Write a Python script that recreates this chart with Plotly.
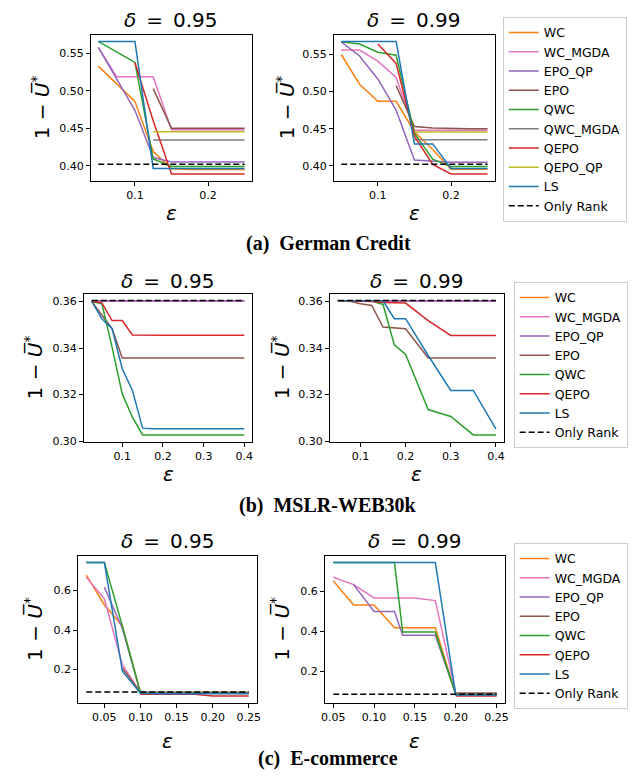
import plotly.graph_objects as go

OFF = 0
W, H = 641 - OFF, 777 - OFF

SERIES = ["WC", "WC_MGDA", "EPO_QP", "EPO", "QWC", "QWC_MGDA", "QEPO", "QEPO_QP", "LS"]
COLORS = {
    "WC": "#ff7f0e", "WC_MGDA": "#e377c2", "EPO_QP": "#9467bd", "EPO": "#8c564b",
    "QWC": "#2ca02c", "QWC_MGDA": "#7f7f7f", "QEPO": "#d62728", "QEPO_QP": "#bcbd22",
    "LS": "#1f77b4",
}

# ---------------- German Credit ----------------
gc_eps = [0.05, 0.075, 0.1, 0.125, 0.15, 0.175, 0.2, 0.225, 0.25]
gc95_WC = [0.533, 0.510, 0.486, 0.419, 0.396, 0.395, 0.395, 0.395, 0.395]
gc95_WC_MGDA = [0.558, 0.519, 0.519, 0.519, 0.448, 0.448, 0.448, 0.448, 0.448]
gc95_EPO_QP = [0.558, 0.516, 0.474, 0.411, 0.405, 0.405, 0.405, 0.405, 0.405]
gc95_EPO = [None, None, None, 0.503, 0.450, 0.450, 0.450, 0.450, 0.450]
gc95_QWC = [0.566, 0.552, 0.538, 0.409, 0.399, 0.399, 0.399, 0.399, 0.399]
gc95_QWC_MGDA = [None, None, None, 0.4345, 0.4345, 0.4345, 0.4345, 0.4345, 0.4345]
gc95_QEPO = [None, None, 0.538, 0.460, 0.389, 0.389, 0.389, 0.389, 0.389]
gc95_QEPO_QP = [None, None, None, 0.4455, 0.4455, 0.4455, 0.4455, 0.4455, 0.4455]
gc95_LS = [0.566, 0.566, 0.566, 0.3965, 0.3965, 0.3965, 0.3965, 0.3965, 0.3965]
gc95_RANK = [0.402, 0.402, 0.402, 0.402, 0.402, 0.402, 0.402, 0.402, 0.402]

gc99_WC = [0.550, 0.510, 0.487, 0.487, 0.446, 0.422, 0.3955, 0.3955, 0.3955]
gc99_WC_MGDA = [0.556, 0.556, 0.541, 0.519, 0.448, 0.448, 0.448, 0.448, 0.448]
gc99_EPO_QP = [0.567, 0.548, 0.517, 0.475, 0.408, 0.4066, 0.405, 0.405, 0.405]
gc99_EPO = [None, None, None, 0.508, 0.453, 0.451, 0.450, 0.450, 0.450]
gc99_QWC = [0.567, 0.564, 0.553, 0.549, 0.444, 0.409, 0.399, 0.399, 0.399]
gc99_QWC_MGDA = [None, None, None, None, 0.435, 0.435, 0.435, 0.435, 0.435]
gc99_QEPO = [None, None, 0.564, 0.538, 0.440, 0.402, 0.389, 0.389, 0.389]
gc99_QEPO_QP = [None, None, None, None, 0.4455, 0.4455, 0.4455, 0.4455, 0.4455]
gc99_LS = [0.5676, 0.5676, 0.5676, 0.5676, 0.4296, 0.4296, 0.3965, 0.3965, 0.3965]
gc99_RANK = [0.402, 0.402, 0.402, 0.402, 0.402, 0.402, 0.402, 0.402, 0.402]

# ---------------- MSLR-WEB30k ----------------
ms_eps = [0.025, 0.05, 0.075, 0.1, 0.125, 0.15, 0.175, 0.2, 0.25, 0.3, 0.35, 0.4]
ms95_WC = [0.3602, 0.3602, 0.3602, 0.3602, 0.3602, 0.3602, 0.3602, 0.3602, 0.3602, 0.3602, 0.3602, 0.3602]
ms95_WC_MGDA = [0.3602, 0.3602, 0.3602, 0.3602, 0.3602, 0.3602, 0.3602, 0.3602, 0.3602, 0.3602, 0.3602, 0.3602]
ms95_EPO_QP = [0.3602, 0.3602, 0.3602, 0.3602, 0.3602, 0.3602, 0.3602, 0.3602, 0.3602, 0.3602, 0.3602, 0.3602]
ms95_EPO = [0.360, 0.354, 0.3483, 0.3357, 0.3357, 0.3357, 0.3357, 0.3357, 0.3357, 0.3357, 0.3357, 0.3357]
ms95_QWC = [0.360, 0.359, 0.3404, 0.3203, 0.3103, 0.3027, 0.3027, 0.3027, 0.3027, 0.3027, 0.3027, 0.3027]
ms95_QEPO = [0.360, 0.3594, 0.3518, 0.3518, 0.3456, 0.3455, 0.3455, 0.3455, 0.3455, 0.3455, 0.3455, 0.3455]
ms95_LS = [0.360, 0.3526, 0.3483, 0.3311, 0.3218, 0.3056, 0.3053, 0.3053, 0.3053, 0.3053, 0.3053, 0.3053]
ms95_RANK = [0.3604, 0.3604, 0.3604, 0.3604, 0.3604, 0.3604, 0.3604, 0.3604, 0.3604, 0.3604, 0.3604, 0.3604]

ms99_WC = [None, 0.3602, 0.3602, 0.3602, 0.3602, 0.3602, 0.3602, 0.3602, 0.3602, 0.3602, 0.3602, 0.3602]
ms99_WC_MGDA = [None, 0.3602, 0.3602, 0.3602, 0.3602, 0.3602, 0.3602, 0.3602, 0.3602, 0.3602, 0.3602, 0.3602]
ms99_EPO_QP = [None, 0.3602, 0.3602, 0.3602, 0.3602, 0.3602, 0.3602, 0.3602, 0.3602, 0.3602, 0.3602, 0.3602]
ms99_EPO = [None, 0.3602, 0.3602, 0.359, 0.3583, 0.349, 0.3485, 0.3483, 0.3357, 0.3357, 0.3357, 0.3357]
ms99_QWC = [None, 0.3602, 0.3602, 0.3602, 0.3602, 0.3587, 0.3414, 0.3372, 0.3136, 0.3106, 0.3027, 0.3027]
ms99_QEPO = [None, 0.3602, 0.3602, 0.3602, 0.3600, 0.3595, 0.3593, 0.3593, 0.3518, 0.3454, 0.3454, 0.3454]
ms99_LS = [None, 0.3603, 0.3603, 0.3603, 0.3603, 0.3603, 0.3526, 0.3526, 0.3368, 0.3218, 0.3218, 0.3053]
ms99_RANK = [None, 0.3604, 0.3604, 0.3604, 0.3604, 0.3604, 0.3604, 0.3604, 0.3604, 0.3604, 0.3604, 0.3604]

# ---------------- E-commerce ----------------
ec95_eps = [0.025, 0.05, 0.075, 0.1, 0.125, 0.15, 0.175, 0.2, 0.225, 0.25]
ec95_WC = [0.678, 0.528, 0.420, 0.083, 0.083, 0.083, 0.083, 0.083, 0.083, 0.083]
ec95_WC_MGDA = [0.667, 0.558, 0.225, 0.083, 0.080, 0.080, 0.080, 0.080, 0.080, 0.080]
ec95_EPO_QP = [None, 0.617, 0.408, 0.083, 0.083, 0.083, 0.083, 0.083, 0.083, 0.083]
ec95_EPO = [None, None, 0.208, 0.086, 0.086, 0.086, 0.086, 0.086, 0.086, 0.086]
ec95_QWC = [0.742, 0.742, 0.420, 0.083, 0.080, 0.080, 0.080, 0.080, 0.080, 0.080]
ec95_QEPO = [None, None, None, 0.075, 0.075, 0.075, 0.075, 0.067, 0.067, 0.067]
ec95_LS = [0.742, 0.742, 0.192, 0.080, 0.078, 0.078, 0.078, 0.078, 0.078, 0.078]
ec95_RANK = [0.0867, 0.0867, 0.0867, 0.0867, 0.0867, 0.0867, 0.0867, 0.0867, 0.0867, 0.0867]

ec99_eps = [0.05, 0.075, 0.1, 0.125, 0.135, 0.15, 0.175, 0.2, 0.225, 0.25]
ec99_WC = [0.655, 0.533, 0.533, 0.418, None, 0.418, 0.418, 0.083, 0.083, 0.083]
ec99_WC_MGDA = [0.672, 0.635, 0.568, 0.568, None, 0.568, 0.555, 0.090, 0.090, 0.090]
ec99_EPO_QP = [None, 0.635, 0.500, 0.500, 0.380, 0.380, 0.380, 0.083, 0.083, 0.083]
ec99_EPO = [None, None, None, None, None, None, None, 0.088, 0.088, 0.088]
ec99_QWC = [0.747, 0.747, 0.747, 0.747, 0.397, 0.397, 0.397, 0.083, 0.083, 0.083]
ec99_QEPO = [None, None, None, None, None, None, None, 0.075, 0.075, 0.075]
ec99_LS = [0.747, 0.747, 0.747, 0.747, None, 0.747, 0.747, 0.080, 0.080, 0.080]
ec99_RANK = [0.083, 0.083, 0.083, 0.083, 0.083, 0.083, 0.083, 0.083, 0.083, 0.083]

SHORT = ["WC", "WC_MGDA", "EPO_QP", "EPO", "QWC", "QEPO", "LS"]
PANELS = [
    dict(x=gc_eps, title="0.95", legend="legend", names=SERIES,
         ys=[gc95_WC, gc95_WC_MGDA, gc95_EPO_QP, gc95_EPO, gc95_QWC, gc95_QWC_MGDA, gc95_QEPO, gc95_QEPO_QP, gc95_LS],
         rank=gc95_RANK, dom=(80, 243, 27, 174), xd=0.1, xf=".1f", yd=0.05, yf=".2f", show=True),
    dict(x=gc_eps, title="0.99", legend="legend", names=SERIES,
         ys=[gc99_WC, gc99_WC_MGDA, gc99_EPO_QP, gc99_EPO, gc99_QWC, gc99_QWC_MGDA, gc99_QEPO, gc99_QEPO_QP, gc99_LS],
         rank=gc99_RANK, dom=(326, 489, 27, 174), xd=0.1, xf=".1f", yd=0.05, yf=".2f", show=False),
    dict(x=ms_eps, title="0.95", legend="legend2", names=SHORT,
         ys=[ms95_WC, ms95_WC_MGDA, ms95_EPO_QP, ms95_EPO, ms95_QWC, ms95_QEPO, ms95_LS],
         rank=ms95_RANK, dom=(73, 243, 288, 437), xd=0.1, xf=".1f", yd=0.02, yf=".2f", show=True),
    dict(x=ms_eps, title="0.99", legend="legend2", names=SHORT,
         ys=[ms99_WC, ms99_WC_MGDA, ms99_EPO_QP, ms99_EPO, ms99_QWC, ms99_QEPO, ms99_LS],
         rank=ms99_RANK, dom=(322, 498, 288, 437), xd=0.1, xf=".1f", yd=0.02, yf=".2f", show=False),
    dict(x=ec95_eps, title="0.95", legend="legend3", names=SHORT,
         ys=[ec95_WC, ec95_WC_MGDA, ec95_EPO_QP, ec95_EPO, ec95_QWC, ec95_QEPO, ec95_LS],
         rank=ec95_RANK, dom=(67, 248, 552, 700), xd=0.05, xf=".2f", yd=0.2, yf=".1f", show=True),
    dict(x=ec99_eps, title="0.99", legend="legend3", names=SHORT,
         ys=[ec99_WC, ec99_WC_MGDA, ec99_EPO_QP, ec99_EPO, ec99_QWC, ec99_QEPO, ec99_LS],
         rank=ec99_RANK, dom=(317, 499, 552, 700), xd=0.05, xf=".2f", yd=0.2, yf=".1f", show=False),
]

# label positions (reference pixels): title y, eps y, ylabel x
LABELS = [(12, 207, 29), (12, 207, 277), (275, 470, 22), (275, 470, 272), (537, 739, 22), (537, 739, 272)]
CAPTIONS = [("(a)\u00a0\u00a0German Credit", 237), ("(b)\u00a0\u00a0MSLR-WEB30k", 501), ("(c)\u00a0\u00a0E-commerce", 756)]


def px(x):
    return (x - OFF) / W


def py(y):
    return 1 - (y - OFF) / H


FONT = "DejaVu Sans"
fig = go.Figure()
layout = dict(width=W, height=H, margin=dict(l=0, r=0, t=0, b=0),
              paper_bgcolor="white", plot_bgcolor="white", showlegend=True,
              font=dict(family=FONT, size=11, color="black"))
annotations = []


def auto_range(vals):
    lo, hi = min(vals), max(vals)
    m = (hi - lo) * 0.05
    return [lo - m, hi + m]


for i, p in enumerate(PANELS):
    k = "" if i == 0 else str(i + 1)
    xa, ya = "x" + k, "y" + k
    allx = [xv for xv, *cols in zip(p["x"], *p["ys"], p["rank"]) if any(c is not None for c in cols)]
    ally = [v for col in p["ys"] + [p["rank"]] for v in col if v is not None]
    for name, y in zip(p["names"], p["ys"]):
        fig.add_trace(go.Scatter(
            x=p["x"], y=y, mode="lines", name=name, xaxis=xa, yaxis=ya,
            line=dict(color=COLORS[name], width=1.5), connectgaps=True,
            legend=p["legend"], legendgroup=name + p["legend"], showlegend=p["show"]))
    fig.add_trace(go.Scatter(
        x=p["x"], y=p["rank"], mode="lines", name="Only Rank", xaxis=xa, yaxis=ya,
        line=dict(color="black", width=1.5, dash="6px,3px"), connectgaps=True,
        legend=p["legend"], legendgroup="rank" + p["legend"], showlegend=p["show"]))
    l, r, t, b = p["dom"]
    common = dict(showline=True, mirror=True, linecolor="black", linewidth=1,
                  ticks="outside", ticklen=4, tickwidth=1, tickcolor="black",
                  showgrid=False, zeroline=False, tickfont=dict(family=FONT, size=11, color="black"))
    layout["xaxis" + k] = dict(domain=[px(l), px(r)], anchor=ya, range=auto_range(allx),
                               dtick=p["xd"], tick0=0, tickformat=p["xf"], **common)
    layout["yaxis" + k] = dict(domain=[py(b), py(t)], anchor=xa, range=auto_range(ally),
                               dtick=p["yd"], tick0=0, tickformat=p["yf"], **common)
    ty, ey, yx = LABELS[i]
    cx = px((l + r) / 2)
    annotations.append(dict(text="<i>δ</i>\u2002=\u2002" + p["title"], x=cx, y=py(ty),
                            xref="paper", yref="paper", showarrow=False, xanchor="center", yanchor="middle",
                            font=dict(family=FONT, size=20, color="black")))
    annotations.append(dict(text="<i>ε</i>", x=cx, y=py(ey), xref="paper", yref="paper",
                            showarrow=False, xanchor="center", yanchor="middle",
                            font=dict(family=FONT, size=20, color="black")))
    annotations.append(dict(text="1 − <i>U\u0305</i><sup>*</sup>", x=px(yx), y=py((t + b) / 2),
                            xref="paper", yref="paper", showarrow=False, textangle=-90,
                            xanchor="center", yanchor="middle",
                            font=dict(family=FONT, size=20, color="black")))

for text, cy in CAPTIONS:
    annotations.append(dict(text="<b>" + text + "</b>", x=px(320), y=py(cy), xref="paper", yref="paper",
                            showarrow=False, xanchor="center", yanchor="middle",
                            font=dict(family="Liberation Serif", size=20, color="black")))

leg_common = dict(xanchor="left", yanchor="top", bgcolor="white", bordercolor="#cccccc", borderwidth=1,
                  font=dict(family=FONT, size=12.5, color="black"), itemwidth=30, tracegroupgap=0)
layout["legend"] = dict(x=px(497), y=py(9), **leg_common)
layout["legend2"] = dict(x=px(508), y=py(276), **leg_common)
layout["legend3"] = dict(x=px(508), y=py(539), **leg_common)
layout["annotations"] = annotations

fig.update_layout(**layout)
fig.write_html("out.html")
